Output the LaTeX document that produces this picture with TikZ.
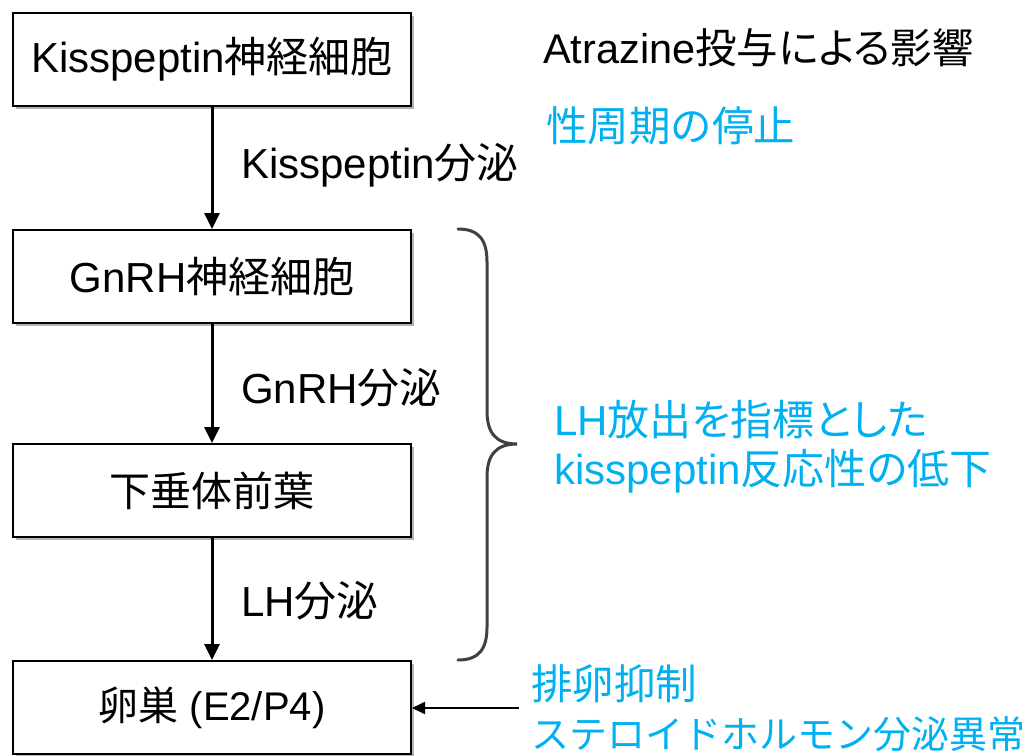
\documentclass[tikz,border=0pt]{standalone}
\usepackage{fontspec}
\setmainfont{Liberation Sans}
\newfontfamily\jpfont{Noto Sans CJK JP}
\newfontfamily\jppfont{Noto Sans CJK JP}[RawFeature=+palt]
\usetikzlibrary{arrows.meta,shadows}
\definecolor{cyanblue}{HTML}{00B0F0}
\definecolor{bracegray}{HTML}{404040}
\newcommand\J[1]{{\jpfont #1}}
\newcommand\JP[1]{{\jppfont #1}}
\begin{document}
\begin{tikzpicture}[x=1pt,y=-1pt,
  box/.style={draw=black, line width=2pt, fill=white, minimum width=398pt,
    minimum height=93pt, inner sep=0pt,
    drop shadow={shadow xshift=2.5pt, shadow yshift=-2.5pt, opacity=0.3, fill=black},
    font=\fontsize{42}{50}\selectfont},
  flow/.style={-{Triangle[width=15pt,length=16pt]}, line width=3pt, draw=black},
  side/.style={-{Triangle[width=12pt,length=13pt]}, line width=2pt, draw=black},
  lbl/.style={anchor=west, inner sep=0pt, font=\fontsize{42}{50}\selectfont},
  note/.style={anchor=west, inner sep=0pt, text=cyanblue, font=\fontsize{41.5}{49}\selectfont}]
\useasboundingbox (0,0) rectangle (1035,755);
% boxes
\node[box] (b1) at (212,59.5) {Kisspeptin\J{神経細胞}};
\node[box] (b2) at (212,276.5) {GnRH\J{神経細胞}};
\node[box, font=\fontsize{41}{49}\selectfont] (b3) at (212,490.5) {\J{下垂体前葉}};
\node[box, font=\fontsize{40}{48}\selectfont] (b4) at (212,707.5) {\J{卵巣} (E2/P4)};
% flow arrows
\draw[flow] (b1) -- (b2);
\draw[flow] (b2) -- (b3);
\draw[flow] (b3) -- (b4);
% arrow labels
\node[lbl] (l1) at (241,165) {Kisspeptin\J{分泌}};
\node[lbl] (l2) at (241,388) {GnRH\J{分泌}};
\node[lbl] (l3) at (241,601) {LH\J{分泌}};
% right texts
\node[anchor=west, inner sep=0pt, font=\fontsize{41.5}{49}\selectfont] (title) at (543,48) {Atrazine\JP{投与による影響}};
\node[note] (n1) at (546,126) {\J{性周期の停止}};
\node[note, align=left, font=\fontsize{42}{49}\selectfont] (n2) at (554,446.5) {LH\JP{放出を指標とした}\\kisspeptin\JP{反応性の低下}};
\node[note] (n3) at (531,684) {\J{排卵抑制}};
\node[note, font=\fontsize{38}{46}\selectfont] (n4) at (531,734) {\J{ステロイドホルモン分泌異常}};
% brace
\draw[bracegray, line width=3pt, line cap=round]
  (458,229) .. controls (479,229) and (487,240) .. (487,262) -- (487,411)
  .. controls (487,433) and (496,444) .. (517,444)
  .. controls (496,444) and (487,455) .. (487,477) -- (487,627)
  .. controls (487,649) and (479,660) .. (458,660);
% side arrow
\coordinate (s) at (519,708);
\draw[side] (s) -- (b4.east |- s);
\end{tikzpicture}
\end{document}
